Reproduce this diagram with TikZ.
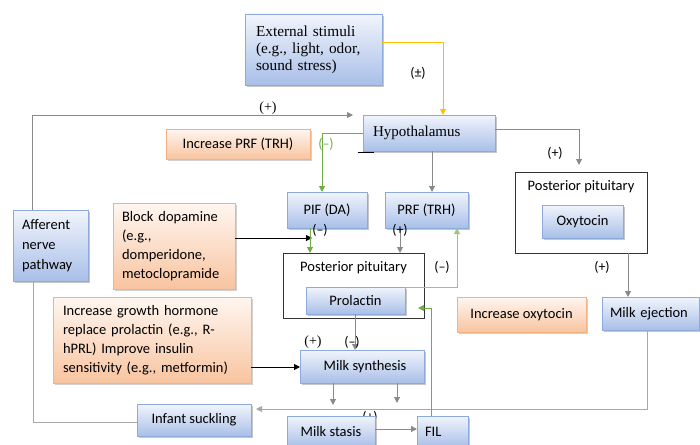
\documentclass[tikz,border=0pt]{standalone}
\usepackage{fontspec}
\setmainfont{Carlito}
\newfontfamily\srf{Liberation Serif}
\usetikzlibrary{arrows.meta,shadows}
\definecolor{bluetop}{HTML}{F1F5FC}
\definecolor{bluebot}{HTML}{A9BFE8}
\definecolor{blueedge}{HTML}{8EAADB}
\definecolor{ortop}{HTML}{FFF6F0}
\definecolor{orbot}{HTML}{F8C4A0}
\definecolor{oredge}{HTML}{F4B183}
\definecolor{lnk}{HTML}{8A8A8A}
\definecolor{lnklight}{HTML}{A8A8A8}
\definecolor{grn}{HTML}{70AD47}
\definecolor{yel}{HTML}{FFC000}
\tikzset{
  bluebox/.style={rectangle, draw=blueedge, line width=0.9pt, top color=bluetop, bottom color=bluebot,
    general shadow={fill=black!22, shadow xshift=1.5pt, shadow yshift=-1.8pt},
    inner sep=2pt, outer sep=0pt, font=\fontsize{14.5}{20}\selectfont},
  orbox/.style={rectangle, draw=oredge, line width=0.9pt, top color=ortop, bottom color=orbot,
    general shadow={fill=black!18, shadow xshift=1.5pt, shadow yshift=-1.8pt},
    inner sep=2pt, outer sep=0pt, font=\fontsize{14.5}{19}\selectfont},
  blkbox/.style={rectangle, draw=black!80, line width=0.8pt, fill=white, inner sep=0pt, outer sep=0pt},
  lbl/.style={inner sep=0pt, font=\fontsize{14}{16}\selectfont},
  tip/.style={-{Triangle[width=6pt,length=6pt]}},
  grarr/.style={draw=lnk, line width=1pt, tip, color=lnk},
  gline/.style={draw=lnklight, line width=1pt},
  grnarr/.style={draw=grn, line width=1pt, tip, color=grn},
  blkarr/.style={draw=black, line width=1pt, tip},
  yelarr/.style={draw=yel, line width=1pt, tip, color=yel},
}
\begin{document}
\begin{tikzpicture}[x=1pt,y=-1pt]
\useasboundingbox (0,0) rectangle (700,444);
% label partly hidden behind milk stasis
\node[lbl] (lhid) at (370,417) {(+)};
% black frames
\node[blkbox, minimum width=132pt, minimum height=81pt] (pp2) at (581,212.5) {};
\node[lbl, font=\fontsize{14.5}{18}\selectfont, anchor=center] (pp2t) at (581,187) {Posterior pituitary};
\node[blkbox, minimum width=141pt, minimum height=65pt] (pp1) at (353.5,285.5) {};
\node[lbl, font=\fontsize{14.5}{18}\selectfont] (pp1t) at (353.5,268) {Posterior pituitary};
% blue boxes
\node[bluebox, minimum width=137pt, minimum height=71pt, inner xsep=11pt, text width=115pt, align=left,
  font=\srf\fontsize{15.3}{17}\selectfont] (ext) at (313.5,49.5) {External stimuli\\(e.g., light, odor,\\sound stress)};
\node[bluebox, minimum width=132pt, minimum height=36pt, inner xsep=10pt, text width=112pt, align=left,
  font=\srf\fontsize{15}{17}\selectfont] (hyp) at (429,133) {Hypothalamus};
\node[bluebox, minimum width=80pt, minimum height=36pt] (pif) at (327,210) {PIF (DA)};
\node[bluebox, minimum width=83pt, minimum height=36pt] (prf) at (426.5,210) {PRF (TRH)};
\node[bluebox, minimum width=81pt, minimum height=33pt] (oxy) at (582.5,221.5) {Oxytocin};
\node[bluebox, minimum width=75pt, minimum height=71pt, inner xsep=9pt, text width=57pt, align=left] (aff) at (50.5,245.5) {Afferent\\nerve\\pathway};
\node[bluebox, minimum width=99pt, minimum height=27pt] (prl) at (355.5,300.5) {Prolactin};
\node[bluebox, minimum width=97pt, minimum height=33pt, inner xsep=8pt, text width=81pt, align=left] (milkej) at (650.5,313.5) {Milk ejection};
\node[bluebox, minimum width=124pt, minimum height=33pt] (milksyn) at (362,366.5) {\hspace*{6pt}Milk synthesis};
\node[bluebox, minimum width=114pt, minimum height=32pt] (infant) at (194,420) {Infant suckling};
\node[bluebox, minimum width=88pt, minimum height=31pt] (stasis) at (331,431.5) {Milk stasis};
\node[bluebox, minimum width=51pt, minimum height=31pt, inner xsep=8pt, text width=35pt, align=left] (fil) at (442.5,431.5) {FIL};
% orange boxes
\node[orbox, minimum width=144pt, minimum height=30pt] (incprf) at (238,144) {Increase PRF (TRH)};
\node[orbox, minimum width=122pt, minimum height=86pt, inner xsep=9pt, text width=104pt, align=left] (block) at (174,246) {Block dopamine\\(e.g.,\\domperidone,\\metoclopramide};
\node[orbox, minimum width=198pt, minimum height=86pt, inner xsep=10pt, text width=178pt, align=left] (incgh) at (152,340) {Increase growth hormone\\replace prolactin (e.g., R-\\hPRL) Improve insulin\\sensitivity (e.g., metformin)};
\node[orbox, minimum width=129pt, minimum height=35pt] (incoxy) at (521.5,314.5) {Increase oxytocin};
% coordinates
\coordinate (yc) at (443,43);
\coordinate (ga) at (32,115);
\coordinate (gb) at (353,115);
\coordinate (gc) at (33,422);
\coordinate (gr1) at (322,133);
\coordinate (h2) at (432,0);
\coordinate (h3) at (579,129);
\coordinate (h3e) at (579,165);
\coordinate (p2) at (628,0);
\coordinate (me) at (647,409);
\coordinate (mee) at (256,409);
\coordinate (bd) at (312,238);
\coordinate (pf) at (310,0);
\coordinate (pr) at (400,0);
\coordinate (gq) at (457,287);
\coordinate (fl) at (431,308);
\coordinate (fle) at (418,308);
\coordinate (pl) at (355,0);
\coordinate (gh) at (0,367);
\coordinate (m1) at (333,405);
\coordinate (m2) at (397,403);
\coordinate (st) at (0,429);
\coordinate (bl1) at (357.5,152.7);
\coordinate (bl2) at (374,152.7);
% connectors
\draw[yelarr] (ext.east |- yc) -- (yc) -- (yc |- hyp.north);
\draw[grarr] (ga |- aff.north) -- (ga) -- (gb);
\draw[gline] (gc |- aff.south) -- (gc) -- (gc -| infant.west);
\draw[grnarr] (hyp.west |- gr1) -- (gr1) -- (gr1 |- pif.north);
\draw[black, line width=0.9pt] (bl1) -- (bl2);
\draw[grarr] (h2 |- hyp.south) -- (h2 |- prf.north);
\draw[grarr] (hyp.east |- h3) -- (h3) -- (h3e);
\draw[grarr] (p2 |- pp2.south) -- (p2 |- milkej.north);
\draw[grarr, draw=lnklight] (me |- milkej.south) -- (me) -- (mee);
\draw[blkarr] (block.east |- bd) -- (bd);
\draw[grnarr] (pf |- pif.south) -- (pf |- pp1.north);
\draw[grarr] (pr |- prf.south) -- (pr |- pp1.north);
\draw[grnarr, draw=grn!70] (prl.north east) -- (gq) -- (gq |- prf.south);
\draw[grnarr] (fl |- fil.north) -- (fl) -- (fle);
\draw[grarr] (pl |- prl.south) -- (pl |- milksyn.north);
\draw[blkarr] (incgh.east |- gh) -- (milksyn.west |- gh);
\draw[grarr] (m1 |- milksyn.south) -- (m1);
\draw[grarr] (m2 |- milksyn.south) -- (m2);
\draw[grarr] (stasis.east |- st) -- (fil.west |- st);
% labels
\node[lbl] (l1) at (418,73) {(±)};
\node[lbl, font=\srf\fontsize{14}{16}\selectfont] (l2) at (268,108) {(+)};
\node[lbl, text=grn] (l3) at (326,144) {(–)};
\node[lbl] (l4) at (555,153) {(+)};
\node[lbl] (l5) at (602,267) {(+)};
\node[lbl] (l6) at (320,230) {(–)};
\node[lbl] (l7) at (400,230) {(+)};
\node[lbl] (l8) at (442,267) {(–)};
\node[lbl, font=\srf\fontsize{14}{16}\selectfont] (l9) at (313,342) {(+)};
\node[lbl] (l10) at (352,342) {(–)};
\end{tikzpicture}
\end{document}
